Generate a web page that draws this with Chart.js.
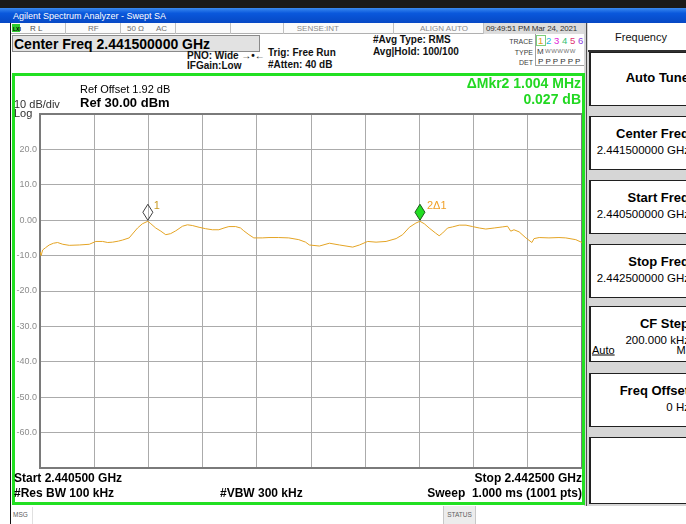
<!DOCTYPE html>
<html>
<head>
<meta charset="utf-8">
<script src="https://cdn.jsdelivr.net/npm/chart.js@4.4.1/dist/chart.umd.min.js"></script>
<style>
  html,body{margin:0;padding:0;}
  body{width:686px;height:524px;overflow:hidden;position:relative;background:#fff;font-family:"Liberation Sans",Arial,sans-serif;}
  .t{position:absolute;white-space:pre;line-height:1;transform:translateY(-50%);}
  .r{transform:translate(-100%,-50%);}
  .c{transform:translate(-50%,-50%);}
  .b{font-weight:bold;}
  .box{position:absolute;box-sizing:border-box;}
  #chart{position:absolute;left:0;top:0;z-index:1;}
  .over{z-index:2;}
</style>
</head>
<body>
<canvas id="chart" width="686" height="524"></canvas>
<script>
// ---------------- data ----------------
const freqMHz = [
  2440.500, 2440.504, 2440.510, 2440.520, 2440.534, 2440.550, 2440.565, 2440.584, 2440.608, 2440.645,
  2440.682, 2440.706, 2440.731, 2440.750, 2440.768, 2440.790, 2440.805, 2440.829, 2440.841, 2440.860,
  2440.878, 2440.898, 2440.909, 2440.927, 2440.946, 2440.964, 2440.982, 2441.001, 2441.026, 2441.044,
  2441.062, 2441.087, 2441.111, 2441.136, 2441.160, 2441.179, 2441.197, 2441.222, 2441.240, 2441.252,
  2441.271, 2441.289, 2441.320, 2441.345, 2441.381, 2441.418, 2441.455, 2441.480, 2441.494, 2441.531,
  2441.568, 2441.605, 2441.654, 2441.679, 2441.709, 2441.740, 2441.777, 2441.814, 2441.838, 2441.863,
  2441.887, 2441.902, 2441.918, 2441.936, 2441.959, 2441.973, 2441.986, 2442.004, 2442.022, 2442.047,
  2442.072, 2442.096, 2442.121, 2442.145, 2442.176, 2442.206, 2442.225, 2442.237, 2442.249, 2442.268,
  2442.293, 2442.315, 2442.323, 2442.342, 2442.378, 2442.415, 2442.440, 2442.477, 2442.500
];
const levelDbm = [
  -8.9, -10.0, -8.4, -7.8, -7.0, -6.5, -6.3, -6.8, -7.1, -7.0,
  -6.8, -6.0, -6.0, -6.3, -6.2, -5.9, -5.6, -5.0, -3.9, -2.2,
  -1.0, -0.3, -1.0, -2.2, -3.1, -4.1, -3.8, -3.0, -1.7, -1.3,
  -1.5, -2.0, -2.4, -2.7, -2.7, -2.2, -1.8, -1.8, -2.2, -3.0,
  -4.1, -5.0, -5.0, -4.9, -4.9, -5.0, -5.5, -6.2, -7.0, -7.3,
  -6.5, -7.0, -7.6, -7.0, -6.0, -6.2, -6.0, -5.2, -4.1, -2.0,
  -0.8, -0.3, -1.0, -2.2, -3.6, -4.4, -3.6, -2.2, -1.9, -1.4,
  -1.4, -1.8, -2.2, -2.5, -2.2, -1.9, -1.7, -3.1, -2.7, -3.3,
  -5.0, -6.3, -5.2, -4.9, -5.0, -4.9, -5.0, -5.5, -6.3
];
const markerFreq  = [2440.898, 2441.902];
const markerLevel = [-0.3, -0.3];
const markerLabel = ['1', '2\u03941'];
const yTicks = [30, 20, 10, 0, -10, -20, -30, -40, -50, -60, -70];
const xStartMHz = 2440.5, xStopMHz = 2442.5, xStepMHz = 0.2;

// ---------------- chrome helpers ----------------
function el(cls, x, y, txt, style){
  const d=document.createElement('div');
  d.className=cls; d.style.left=x+'px'; d.style.top=y+'px';
  if(txt!==null) d.textContent=txt;
  if(style) d.style.cssText+=style;
  document.body.appendChild(d); return d;
}
function box(x,y,w,h,style){ return el('box',x,y,null,'width:'+w+'px;height:'+h+'px;'+style); }
function txt(x,y,s,style,cls){ return el('t '+(cls||''),x,y,s,style); }

// top bar
box(0,0,686,8,'background:#1a1a1a;');
box(0,8,686,15,'background:linear-gradient(180deg,#3a8af0 0%,#0a58dc 35%,#0648c4 100%);');
txt(13,15.5,'Agilent Spectrum Analyzer - Swept SA','color:#fff;font-size:9px;');
// left dark line
box(10,23,1,501,'background:#111;');
// status row
box(11,23,573,11,'background:#fbfbfb;border-bottom:1px solid #b0b0b0;');
box(12,24,8,8,'background:#2ecc2e;');
txt(13,28.5,'LXI','font-size:5px;color:#000;font-weight:bold;');
txt(30,28.5,'R L','font-size:8px;color:#505050;');
txt(88,28.5,'RF','font-size:8px;color:#707070;');
txt(127,28.5,'50 \u03a9','font-size:8px;color:#707070;');
txt(156,28.5,'AC','font-size:8px;color:#707070;');
[65,120,175,230,283,393,483].forEach(x=>box(x,23,1,11,'background:#c0c0c0;'));
txt(339,28.5,'SENSE:INT','font-size:8px;color:#8a8a8a;','r');
txt(420,28.5,'ALIGN AUTO','font-size:8px;color:#8a8a8a;');
box(484,23,100,11,'background:#dcdcdc;');
txt(486,28.5,'09:49:51 PM Mar 24, 2021','font-size:8px;color:#303030;letter-spacing:-0.15px;');

// center freq row
box(12,35,248,17,'background:#e2e2e2;border:1px solid #8a8a8a;');
txt(14,43.5,'Center Freq 2.441500000 GHz','font-size:14px;color:#000;','b');
txt(187,56,'PNO: Wide \u2192\u2022\u2190','font-size:10px;color:#111;','b');
txt(187,66,'IFGain:Low','font-size:10px;color:#111;','b');
txt(268,53,'Trig: Free Run','font-size:10px;color:#111;','b');
txt(268,64.5,'#Atten: 40 dB','font-size:10px;color:#111;','b');
txt(373,40,'#Avg Type: RMS','font-size:10px;color:#111;','b');
txt(373,52,'Avg|Hold: 100/100','font-size:10px;color:#111;','b');
txt(533,40.5,'TRACE','font-size:7px;color:#404040;','r');
txt(533,51.5,'TYPE','font-size:7px;color:#404040;','r');
txt(533,61.5,'DET','font-size:7px;color:#404040;','r');
box(535,34,1,32,'background:#a0a0a0;');
box(536,65,48,1,'background:#a0a0a0;');
box(536,35,10,11,'border:1px solid #7ccf7c;');
const trColors=['#e0a020','#20b8e0','#e020d8','#30c070','#e03070','#8a40e0'];
trColors.forEach((c,i)=>txt(538+i*8,41,String(i+1),'font-size:9.5px;color:'+c+';'));
txt(537,51.5,'M','font-size:8px;color:#404040;');
txt(545,51,'WWWWW','font-size:6px;color:#707070;letter-spacing:0.5px;');
txt(538,61.5,'P P P P P P','font-size:8px;color:#303030;');

// right panel
box(584,23,102,483,'background:#d6d6d6;');
box(586,23,1,483,'background:#505050;');
box(588,23,100,29,'background:#fff;border-bottom:2px solid #303030;');
txt(641,37,'Frequency','font-size:11px;color:#111;','c');
const keys=[[52,106,'Auto Tune',null],[116,170,'Center Freq','2.441500000 GHz'],[180,234,'Start Freq','2.440500000 GHz'],
            [244,298,'Stop Freq','2.442500000 GHz'],[306,362,'CF Step','200.000 kHz'],[373,427,'Freq Offset','0 Hz'],[437,504,'',null]];
keys.forEach(k=>{
  box(589,k[0],100,k[1]-k[0],'background:#fff;border:1px solid #202020;border-left-width:2px;');
  if(k[2]){
    if(k[3]){
      txt(689,k[0]+17,k[2],'font-size:13px;color:#000;','b r');
      txt(690,k[0]+35,k[3],'font-size:11.5px;color:#000;','r');
    } else {
      txt(689,(k[0]+k[1])/2-2,k[2],'font-size:13px;color:#000;','b r');
    }
  }
});
txt(592,350,'Auto','font-size:11px;color:#000;text-decoration:underline;');
txt(698,350,'Man','font-size:11px;color:#000;','r');

// msg row
txt(13,515,'MSG','font-size:6.5px;color:#606060;');
box(32,507,1,17,'background:#e0e0e0;');
box(443,506,33,18,'background:#ececec;border-left:1px solid #c8c8c8;border-right:1px solid #c8c8c8;');
txt(459.5,515,'STATUS','font-size:6.5px;color:#606060;','c');

// frame + texts in frame (above canvas)
el('box over',12,73,null,'width:573px;height:432px;border:3px solid #22e022;');
txt(80,89,'Ref Offset 1.92 dB','font-size:11px;color:#000;','over');
txt(80,102,'Ref 30.00 dBm','font-size:13px;color:#000;','b over');
txt(14,104,'10 dB/div','font-size:11px;color:#303030;','over');
txt(14,113,'Log','font-size:11px;color:#303030;','over');
txt(581,83,'\u0394Mkr2 1.004 MHz','font-size:14px;color:#22d822;','b r over');
txt(581,99,'0.027 dB','font-size:14px;color:#22d822;','b r over');
txt(14,478,'Start 2.440500 GHz','font-size:12px;color:#000;','b over');
txt(14,493,'#Res BW 100 kHz','font-size:12px;color:#000;','b over');
txt(220,493,'#VBW 300 kHz','font-size:12px;color:#000;','b over');
txt(582,478,'Stop 2.442500 GHz','font-size:12px;color:#000;','b r over');
txt(582,493,'Sweep  1.000 ms (1001 pts)','font-size:12px;color:#000;','b r over');

// ---------------- chart ----------------
const framePlugin={
  id:'frame',
  beforeDatasetsDraw(chart){
    const a=chart.chartArea, c=chart.ctx;
    c.save(); c.strokeStyle='#7a7a7a'; c.lineWidth=2;
    c.strokeRect(a.left,a.top,a.right-a.left,a.bottom-a.top); c.restore();
  }
};
const markerPlugin={
  id:'markers',
  afterDatasetsDraw(chart){
    const c=chart.ctx, xs=chart.scales.x, ys=chart.scales.y;
    markerFreq.forEach((f,i)=>{
      const px=xs.getPixelForValue(f), py=ys.getPixelForValue(markerLevel[i])-1;
      c.save();
      c.beginPath();
      c.moveTo(px,py); c.lineTo(px+5,py-8); c.lineTo(px,py-16); c.lineTo(px-5,py-8); c.closePath();
      if(i===0){ c.strokeStyle='#404040'; c.lineWidth=1; c.stroke(); }
      else { c.fillStyle='#22dd22'; c.fill(); c.strokeStyle='#1c5a1c'; c.lineWidth=1; c.stroke(); }
      c.font='11px "Liberation Sans", Arial';
      c.fillStyle= i===0 ? '#c89a20' : '#f0a028';
      c.textBaseline='middle'; c.textAlign='left';
      c.fillText(markerLabel[i], px+ (i===0?6:7), py-14);
      c.restore();
    });
  }
};
new Chart(document.getElementById('chart'),{
  type:'line',
  data:{datasets:[{
    data:freqMHz.map((f,i)=>({x:f,y:levelDbm[i]})),
    borderColor:'#e4a424', borderWidth:1, pointRadius:0, tension:0, fill:false
  }]},
  options:{
    responsive:false, animation:false, devicePixelRatio:1,
    layout:{padding:{left:10,top:114,right:104,bottom:56}},
    scales:{
      x:{type:'linear',min:xStartMHz,max:xStopMHz,
         ticks:{display:false,stepSize:xStepMHz},
         grid:{color:'#ababab',lineWidth:1,drawTicks:false},
         border:{display:false},
         afterFit(s){s.height=0;}},
      y:{type:'linear',min:yTicks[yTicks.length-1],max:yTicks[0],
         afterBuildTicks(s){s.ticks=yTicks.map(v=>({value:v}));},
         ticks:{padding:3,color:'#8c8c8c',font:{size:9,family:'"Liberation Sans", Arial'},
                callback:(v)=> (v===yTicks[0]||v===yTicks[yTicks.length-1]) ? '' : (v===0?'0.00':v.toFixed(1))},
         grid:{color:'#ababab',lineWidth:1,drawTicks:false},
         border:{display:false},
         afterFit(s){s.width=30;}}
    },
    plugins:{legend:{display:false},tooltip:{enabled:false}}
  },
  plugins:[framePlugin,markerPlugin]
});
</script>
</body>
</html>
